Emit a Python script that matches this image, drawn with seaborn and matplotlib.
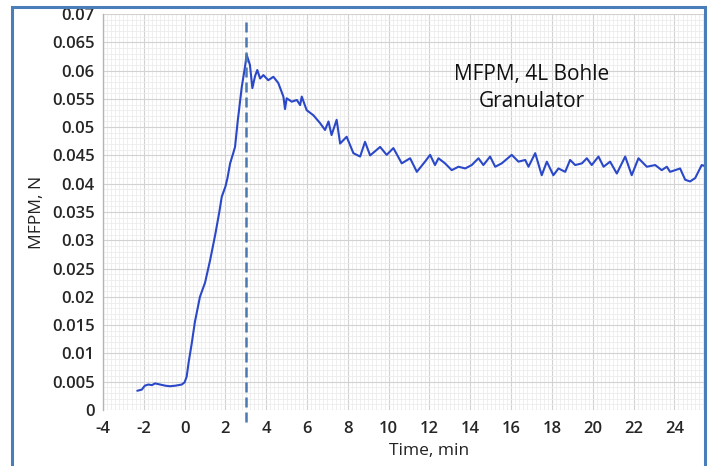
import numpy as np
import pandas as pd
import matplotlib
matplotlib.use("Agg")
import matplotlib.pyplot as plt
import matplotlib.ticker as mticker
from matplotlib.patches import Rectangle
import seaborn as sns

# values
time_min = [
    -2.32, -2.1, -1.95, -1.78, -1.6, -1.45, -1.2, -0.95, -0.72, -0.45, -0.14,
    0.0, 0.10, 0.2, 0.35, 0.5, 0.75, 1.0, 1.25, 1.5, 1.7, 1.82, 2.0, 2.1,
    2.23, 2.39, 2.47, 2.6, 2.80, 2.96, 3.04, 3.2, 3.32, 3.45, 3.56, 3.70,
    3.86, 4.1, 4.35, 4.59, 4.84, 4.92, 5.0, 5.25, 5.5, 5.66, 5.74, 5.98,
    6.31, 6.64, 6.88, 7.05, 7.2, 7.45, 7.62, 7.94, 8.27, 8.6, 8.84, 9.09,
    9.58, 9.9, 10.23, 10.64, 11.05, 11.38, 11.78, 12.03, 12.27, 12.44,
    12.76, 13.09, 13.42, 13.75, 14.07, 14.4, 14.64, 14.97, 15.22, 15.54,
    16.03, 16.36, 16.69, 16.85, 17.18, 17.5, 17.75, 18.07, 18.32, 18.65,
    18.89, 19.14, 19.47, 19.71, 19.95, 20.28, 20.53, 20.85, 21.18, 21.59,
    21.91, 22.24, 22.65, 23.06, 23.38, 23.63, 23.79, 24.04, 24.28, 24.53,
    24.77, 25.02, 25.34, 25.59,
]
mfpm_n = [
    0.0034, 0.0036, 0.0043, 0.0045, 0.0044, 0.0047, 0.0045, 0.0043, 0.0042, 0.0043, 0.0045,
    0.0049, 0.0059, 0.0085, 0.0118, 0.0155, 0.0200, 0.0225, 0.0265, 0.0310, 0.0350, 0.0377, 0.0395, 0.0410,
    0.0436, 0.0455, 0.0465, 0.0510, 0.0571, 0.0607, 0.0628, 0.0610, 0.0569, 0.0590, 0.0601, 0.0586,
    0.0592, 0.0583, 0.0589, 0.0578, 0.0554, 0.0532, 0.0551, 0.0545, 0.0548, 0.0539, 0.0554, 0.0530,
    0.0521, 0.0507, 0.0495, 0.0510, 0.0486, 0.0513, 0.0471, 0.0483, 0.0454, 0.0448, 0.0474, 0.0450,
    0.0465, 0.0451, 0.0463, 0.0436, 0.0445, 0.0421, 0.0439, 0.0451, 0.0433, 0.0445,
    0.0436, 0.0424, 0.0430, 0.0427, 0.0433, 0.0445, 0.0433, 0.0448, 0.0430, 0.0436,
    0.0451, 0.0439, 0.0442, 0.0430, 0.0454, 0.0415, 0.0439, 0.0415, 0.0427, 0.0421,
    0.0442, 0.0433, 0.0436, 0.0445, 0.0433, 0.0448, 0.0430, 0.0439, 0.0418, 0.0448,
    0.0415, 0.0445, 0.0430, 0.0433, 0.0424, 0.0430, 0.0421, 0.0424, 0.0427, 0.0407,
    0.0404, 0.0410, 0.0433, 0.0430,
]
x_ticks = [-4, -2, 0, 2, 4, 6, 8, 10, 12, 14, 16, 18, 20, 22, 24]
marker_time = 3.0
note_text = "MFPM, 4L Bohle\nGranulator"
note_pos = (17.0, 0.0569)

df = pd.DataFrame({"time": time_min, "mfpm": mfpm_n})

sns.set_theme(style="whitegrid")
plt.rcParams["font.family"] = ["Open Sans", "DejaVu Sans"]
plt.rcParams["axes.unicode_minus"] = False

W, H = 710, 466
fig = plt.figure(figsize=(W / 100, H / 100), dpi=100)
fig.patch.set_facecolor("white")
ax = fig.add_axes([103 / W, 1 - 410 / H, 653 / W, 396 / H])
ax.set_facecolor("white")

sns.lineplot(data=df, x="time", y="mfpm", ax=ax, color="#2a48c8",
             linewidth=1.5, estimator=None, zorder=3)

ax.axvline(marker_time, ymin=-0.03, ymax=0.983, color="#4a78b0",
           linestyle=(0, (4, 2)), linewidth=1.8, clip_on=False, zorder=4)

ax.text(*note_pos, note_text, ha="center", va="center", fontsize=15,
        color="#111111", linespacing=1.35)

ax.set_xlim(-4, 28)
ax.set_ylim(0, 0.07)
ax.xaxis.set_major_locator(mticker.FixedLocator(x_ticks))
ax.xaxis.set_minor_locator(mticker.MultipleLocator(0.2))
ax.yaxis.set_major_locator(mticker.MultipleLocator(0.005))
ax.yaxis.set_minor_locator(mticker.MultipleLocator(0.001))
ax.yaxis.set_major_formatter(mticker.FuncFormatter(lambda v, _: f"{v:g}"))
ax.xaxis.set_major_formatter(mticker.FuncFormatter(lambda v, _: f"{v:g}"))

ax.grid(which="major", color="#d2d2d2", linewidth=0.8)
ax.grid(which="minor", color="#ececec", linewidth=0.6)
ax.set_axisbelow(True)

for side in ["top", "right", "bottom"]:
    ax.spines[side].set_visible(False)
ax.spines["left"].set_color("#b4b4b4")
ax.spines["left"].set_linewidth(1.0)

ax.tick_params(axis="both", which="major", length=3, width=1, color="#999999",
               labelsize=12, labelcolor="#262626", pad=3)
ax.tick_params(axis="x", which="major", pad=5)
ax.tick_params(which="minor", length=0)
for lbl in ax.get_xticklabels() + ax.get_yticklabels():
    lbl.set_fontweight("semibold")

ax.set_xlabel("Time, min", fontsize=12.5, color="#222222", labelpad=4)
ax.set_ylabel("MFPM, N", fontsize=12.5, color="#222222", labelpad=5)

# white margin and the blue outline of the screenshot
fig.add_artist(Rectangle((707 / W, 0), 3 / W, 1, transform=fig.transFigure,
                         facecolor="white", edgecolor="none", zorder=10))
fig.add_artist(Rectangle((12 / W, -0.05), (705 - 12) / W, 1.05 - 7 / H,
                         transform=fig.transFigure, fill=False,
                         edgecolor="#4a7ebb", linewidth=2.2, zorder=11))

fig.savefig("out.png", dpi=100)
